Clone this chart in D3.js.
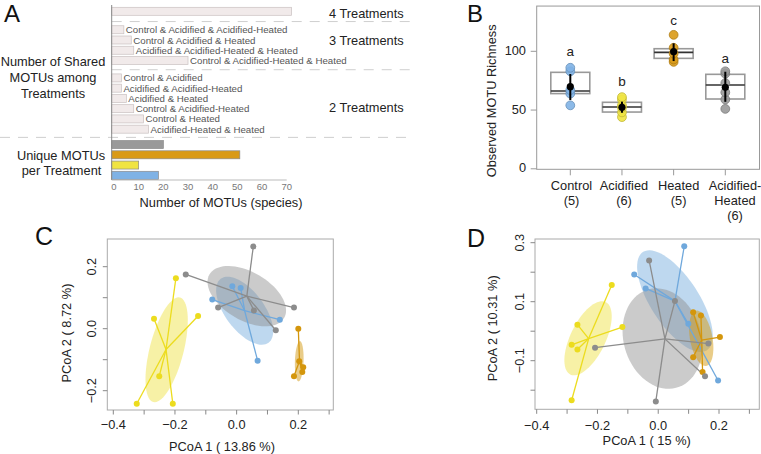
<!DOCTYPE html>
<html><head><meta charset="utf-8">
<script src="https://cdn.jsdelivr.net/npm/d3@7"></script>
<style>body{margin:0;background:#fff}svg{display:block}text{font-family:"Liberation Sans",Arial,sans-serif}</style>
</head><body><svg id="c" width="761" height="454"></svg>
<script>
// ---------- Panel A data ----------
const allFourLabel = "4 Treatments";
const allFourValue = 72;
const threeLabels = ["Control & Acidified & Acidified-Heated","Control & Acidified & Heated","Acidified & Acidified-Heated & Heated","Control & Acidified-Heated & Heated"];
const threeValues = [4,7,8,30];
const twoLabels = ["Control & Acidified","Acidified & Acidified-Heated","Acidified & Heated","Control & Acidified-Heated","Control & Heated","Acidified-Heated & Heated"];
const twoValues = [3,3,5,8,12,14];
const uniqueTreatments = ["Acidified-Heated","Heated","Acidified","Control"];
const uniqueValues = [20,51,10,18];
const aTicks = [0,10,20,30,40,50,60,70];

// ---------- Panel B data ----------
const groups = ["Control","Acidified","Heated","Acidified-Heated"];
const groupColors = {"Control":"#7fb2e5","Acidified":"#f0e442","Heated":"#d99a17","Acidified-Heated":"#999999"};
const groupLabels = [["Control","(5)"],["Acidified","(6)"],["Heated","(5)"],["Acidified-","Heated","(6)"]];
const richControl = [54,64,67,83,86];
const richAcidified = [44,48,52,54,59,61];
const richHeated = [91,93,98,103,114];
const richAcidHeated = [51,59,65,73,81,83];
const boxQ1 = [64,48.3,94,59.4];
const boxMedian = [66.2,52.6,99.1,71.3];
const boxQ3 = [82.1,56.6,102.2,80.4];
const meanRich = [69.9,52.3,99.7,69.3];
const errLow = [58.5,47.7,91.7,57];
const errHigh = [80.7,57.1,106.8,82.6];
const sigLetters = ["a","b","c","a"];
const sigLetterY = [99.7,74.1,126,94];
const bTicks = [0,50,100];

// ---------- Panel C data (PCoA, x,y) ----------
const cControl = [[-0.014,0.137],[0.013,0.131],[-0.079,0.094],[0.140,0.029],[0.068,-0.103]];
const cAcidified = [[-0.197,0.163],[-0.268,0.032],[-0.125,0.041],[-0.251,-0.153],[-0.324,-0.242],[-0.207,-0.242]];
const cHeated = [[0.200,0.000],[0.203,-0.105],[0.216,-0.124],[0.213,-0.140],[0.186,-0.153]];
const cAcidHeated = [[0.054,0.265],[-0.165,0.175],[-0.060,0.068],[0.056,0.059],[0.186,0.068],[0.127,-0.005]];
const cCentroids = [[0.026,0.058],[-0.229,-0.067],[0.204,-0.104],[0.033,0.105]];
// ellipse: cx, cy, semi-major, semi-minor, angle (deg)
const cEllipses = [[0.026,0.058,0.129,0.063,-53],[-0.227,-0.068,0.174,0.055,75.6],[0.203,-0.105,0.065,0.014,88],[0.033,0.105,0.14,0.078,-30]];
const cXTicks = [-0.4,-0.3,-0.2,-0.1,0,0.1,0.2,0.3];
const cXLabels = [-0.4,-0.2,0,0.2];
const cYTicks = [-0.2,-0.1,0,0.1,0.2];
const cYLabels = [-0.2,0,0.2];

// ---------- Panel D data ----------
const dControl = [[0.0856,0.288],[-0.079,0.192],[-0.0415,0.145],[0.099,0.025],[0.197,-0.167]];
const dAcidified = [[-0.153,0.157],[-0.266,0.022],[-0.118,0.014],[-0.285,-0.046],[-0.266,-0.062],[-0.285,-0.234]];
const dHeated = [[0.1405,0.053],[0.203,-0.020],[0.146,-0.138],[0.115,0.064],[0.115,-0.088]];
const dAcidHeated = [[-0.030,0.240],[-0.208,-0.056],[-0.008,-0.238],[0.154,-0.153],[0.165,-0.042],[0.055,0.102]];
const dCentroids = [[0.055,0.102],[-0.229,-0.025],[0.143,-0.030],[0.022,-0.026]];
const dEllipses = [[0.055,0.102,0.197,0.08,-58],[-0.231,-0.024,0.136,0.058,65],[0.1415,-0.024,0.095,0.037,-80],[0.014,-0.025,0.173,0.128,-75]];
const dXTicks = [-0.4,-0.3,-0.2,-0.1,0,0.1,0.2,0.3];
const dXLabels = [-0.4,-0.2,0,0.2];
const dYTicks = [-0.2,-0.1,0,0.1,0.2,0.3];
const dYLabels = [-0.1,0.1,0.3];

const pcoaLine = {"Control":"#6fa8dc","Acidified":"#ecdc1e","Heated":"#d4960c","Acidified-Heated":"#8c8c8c"};
const pcoaFill = {"Control":"#6fa8dc","Acidified":"#ede03a","Heated":"#d49a12","Acidified-Heated":"#8c8c8c"};

const svg = d3.select("#c");
svg.append("rect").attr("width",761).attr("height",454).attr("fill","#fff");
const TXT = "#222";
function txt(g,x,y,s,size,opts={}){
  const t = g.append("text").attr("x",x).attr("y",y).text(s)
    .attr("font-size",size).attr("fill",opts.fill||TXT)
    .attr("text-anchor",opts.anchor||"start").attr("dominant-baseline",opts.base||"central");
  if(opts.rotate) t.attr("transform",`rotate(${opts.rotate},${x},${y})`);
  return t;
}
const fmt = v => (v<0?"\u2212":"") + Math.abs(v).toFixed(1);

// ================= Panel A =================
const gA = svg.append("g");
const ax = d3.scaleLinear().domain([0,70]).range([114,286.7]);
const axisLineX = ax(0) - 2.3;
const slotY = d3.scaleLinear().domain([0,16]).range([11.3, 11.3+16*10.25]);
const barH = 8;
const rows = [];
rows.push({slot:0,v:allFourValue,label:null,fill:"#f1eaea"});
threeValues.forEach((v,i)=>rows.push({slot:1.8+i,v,label:threeLabels[i],fill:"#f1eaea"}));
twoValues.forEach((v,i)=>rows.push({slot:6.5+i,v,label:twoLabels[i],fill:"#f1eaea"}));
uniqueValues.forEach((v,i)=>rows.push({slot:13+i,v,label:null,fill:groupColors[uniqueTreatments[i]],unique:true}));

// separators
[[1.0,axisLineX],[5.7,axisLineX],[12.3,0]].forEach(([s,x0])=>{
  gA.append("line").attr("x1",x0).attr("x2",413).attr("y1",slotY(s)).attr("y2",slotY(s))
    .attr("stroke","#cfcfcf").attr("stroke-width",1).attr("stroke-dasharray","10,8");
});
gA.selectAll("rect.bar").data(rows).join("rect").attr("class","bar")
  .attr("x",axisLineX).attr("y",d=>slotY(d.slot)-barH/2)
  .attr("width",d=>ax(d.v)-axisLineX).attr("height",barH)
  .attr("fill",d=>d.fill).attr("stroke",d=>d.unique?"#8a8a8a":"#c9c0c0").attr("stroke-width",0.7);
rows.filter(d=>d.label).forEach(d=>{
  txt(gA,ax(d.v)+2,slotY(d.slot),d.label,9.7,{fill:"#555"});
});
// axes
gA.append("line").attr("x1",axisLineX).attr("x2",axisLineX).attr("y1",5).attr("y2",180).attr("stroke","#888").attr("stroke-width",1);
gA.append("line").attr("x1",axisLineX).attr("x2",ax(70)).attr("y1",180).attr("y2",180).attr("stroke","#aaa").attr("stroke-width",0.8);
aTicks.forEach(t=>{
  txt(gA,ax(t),186.5,String(t),9.5,{anchor:"middle",fill:"#777"});
});
txt(gA,221,202.7,"Number of MOTUs (species)",12.8,{anchor:"middle"});
txt(gA,329,13.3,allFourLabel,12.8);
txt(gA,329,40,"3 Treatments",12.8);
txt(gA,329,107,"2 Treatments",12.8);
txt(gA,53,61.7,"Number of Shared",12.8,{anchor:"middle"});
txt(gA,53,77.7,"MOTUs among",12.8,{anchor:"middle"});
txt(gA,53,93,"Treatments",12.8,{anchor:"middle"});
txt(gA,61,155,"Unique MOTUs",12.8,{anchor:"middle"});
txt(gA,61.5,170.7,"per Treatment",12.8,{anchor:"middle"});
txt(gA,4,22,"A",24,{base:"alphabetic",fill:"#111"});

// ================= Panel B =================
const gB = svg.append("g");
const by = d3.scaleLinear().domain([0,100]).range([168.8,51.3]);
const bx = d3.scalePoint().domain(groups).range([570.3,725.3]);
const bFrame = {x0:536.7,x1:759.5,y0:by(138.5),y1:169.3};
gB.append("rect").attr("x",bFrame.x0).attr("y",bFrame.y0).attr("width",bFrame.x1-bFrame.x0).attr("height",bFrame.y1-bFrame.y0)
  .attr("fill","none").attr("stroke","#999").attr("stroke-width",1);
bTicks.forEach(t=>{
  gB.append("line").attr("x1",bFrame.x0-6).attr("x2",bFrame.x0).attr("y1",by(t)).attr("y2",by(t)).attr("stroke","#999");
  txt(gB,526,by(t)-1,String(t),12.8,{anchor:"end"});
});
groups.forEach(g=>{
  gB.append("line").attr("x1",bx(g)).attr("x2",bx(g)).attr("y1",bFrame.y1).attr("y2",bFrame.y1+6).attr("stroke","#999");
});
const labelShift = [1.2,2,5,9.7];
groupLabels.forEach((lines,i)=>{
  lines.forEach((s,j)=>txt(gB,bx(groups[i])+labelShift[i],185+15*j,s,12.8,{anchor:"middle"}));
});
txt(gB,491.3,100.8,"Observed MOTU Richness",12.8,{anchor:"middle",rotate:-90});
const richAll = [richControl,richAcidified,richHeated,richAcidHeated];
groups.forEach((g,i)=>{
  const cx = bx(g), hw = 19.5;
  gB.append("rect").attr("x",cx-hw).attr("y",by(boxQ3[i])).attr("width",2*hw).attr("height",by(boxQ1[i])-by(boxQ3[i]))
    .attr("fill","#fff").attr("stroke","#999").attr("stroke-width",1.6);
  gB.append("line").attr("x1",cx-hw).attr("x2",cx+hw).attr("y1",by(boxMedian[i])).attr("y2",by(boxMedian[i]))
    .attr("stroke","#333").attr("stroke-width",1.6);
  gB.selectAll(null).data(richAll[i]).join("circle")
    .attr("cx",cx).attr("cy",d=>by(d)).attr("r",4.4)
    .attr("fill",groupColors[g]).attr("fill-opacity",0.9)
    .attr("stroke",d3.color(groupColors[g]).darker(0.6)).attr("stroke-width",0.8);
  gB.append("line").attr("x1",cx).attr("x2",cx).attr("y1",by(errLow[i])).attr("y2",by(errHigh[i]))
    .attr("stroke","#000").attr("stroke-width",2);
  gB.append("circle").attr("cx",cx).attr("cy",by(meanRich[i])).attr("r",3.6).attr("fill","#000");
  txt(gB,cx,by(sigLetterY[i]),sigLetters[i],13.5,{anchor:"middle"});
});
txt(gB,467,22,"B",24,{base:"alphabetic",fill:"#111"});

// ================= PCoA panels =================
function pcoa(cfg){
  const g = svg.append("g");
  const x = d3.scaleLinear().domain([-0.4,0.2]).range(cfg.xr);
  const y = d3.scaleLinear().domain(cfg.yd).range(cfg.yr);
  const fr = cfg.frame;
  const order = [0,1,3,2];
  order.forEach(i=>{
    const [ecx,ecy,a,b,ang] = cfg.ell[i];
    const th = ang*Math.PI/180;
    const pts = d3.range(0,73).map(k=>{
      const t = k/72*2*Math.PI;
      const dx = a*Math.cos(t)*Math.cos(th) - b*Math.sin(t)*Math.sin(th);
      const dy = a*Math.cos(t)*Math.sin(th) + b*Math.sin(t)*Math.cos(th);
      return [x(ecx+dx), y(ecy+dy)];
    });
    g.append("path").attr("d",d3.line()(pts)+"Z").attr("fill",pcoaFill[groups[i]]).attr("fill-opacity",i===2?0.5:0.45).attr("stroke","none");
  });
  cfg.pts.forEach((arr,i)=>{
    const c = cfg.cent[i];
    arr.forEach(p=>{
      g.append("line").attr("x1",x(c[0])).attr("y1",y(c[1])).attr("x2",x(p[0])).attr("y2",y(p[1]))
        .attr("stroke",pcoaLine[groups[i]]).attr("stroke-width",1.3);
    });
  });
  cfg.pts.forEach((arr,i)=>{
    g.selectAll(null).data(arr).join("circle").attr("cx",d=>x(d[0])).attr("cy",d=>y(d[1])).attr("r",3)
      .attr("fill",pcoaLine[groups[i]]);
  });
  g.append("rect").attr("x",fr[0]).attr("y",fr[1]).attr("width",fr[2]-fr[0]).attr("height",fr[3]-fr[1])
    .attr("fill","none").attr("stroke","#aaa").attr("stroke-width",1);
  cfg.xt.forEach(t=>g.append("line").attr("x1",x(t)).attr("x2",x(t)).attr("y1",fr[3]).attr("y2",fr[3]+4.5).attr("stroke","#888"));
  cfg.yt.forEach(t=>g.append("line").attr("x1",fr[0]-4.5).attr("x2",fr[0]).attr("y1",y(t)).attr("y2",y(t)).attr("stroke","#888"));
  cfg.xl.forEach(t=>txt(g,x(t),cfg.xlY,fmt(t),12.8,{anchor:"middle"}));
  cfg.yl.forEach(t=>txt(g,cfg.ylX,y(t),fmt(t),12.8,{anchor:"middle",rotate:-90}));
  txt(g,cfg.xtitle[1],cfg.xtitle[2],cfg.xtitle[0],12.8,{anchor:"middle"});
  txt(g,cfg.ytitle[1],cfg.ytitle[2],cfg.ytitle[0],12.8,{anchor:"middle",rotate:-90});
  txt(g,cfg.letter[1],cfg.letter[2],cfg.letter[0],25,{base:"alphabetic",fill:"#111"});
}
pcoa({xr:[113.3,298.3],yd:[-0.2,0.2],yr:[390.7,266.7],frame:[107.3,239,333.3,410],
  ell:cEllipses,pts:[cControl,cAcidified,cHeated,cAcidHeated],cent:cCentroids,
  xt:cXTicks,yt:cYTicks,xl:cXLabels,yl:cYLabels,xlY:424,ylX:91.5,
  xtitle:["PCoA 1 ( 13.86 %)",222,446.3],ytitle:["PCoA 2 ( 8.72 %)",66,333],letter:["C",35,244.5]});
pcoa({xr:[536.7,719],yd:[-0.1,0.3],yr:[360.7,242.7],frame:[535,239,759.3,409.3],
  ell:dEllipses,pts:[dControl,dAcidified,dHeated,dAcidHeated],cent:dCentroids,
  xt:dXTicks,yt:dYTicks,xl:dXLabels,yl:dYLabels,xlY:425,ylX:520,
  xtitle:["PCoA 1 ( 15 %)",646.7,440],ytitle:["PCoA 2 ( 10.31 %)",492.5,328.3],letter:["D",467,246.5]});
</script></body></html>
